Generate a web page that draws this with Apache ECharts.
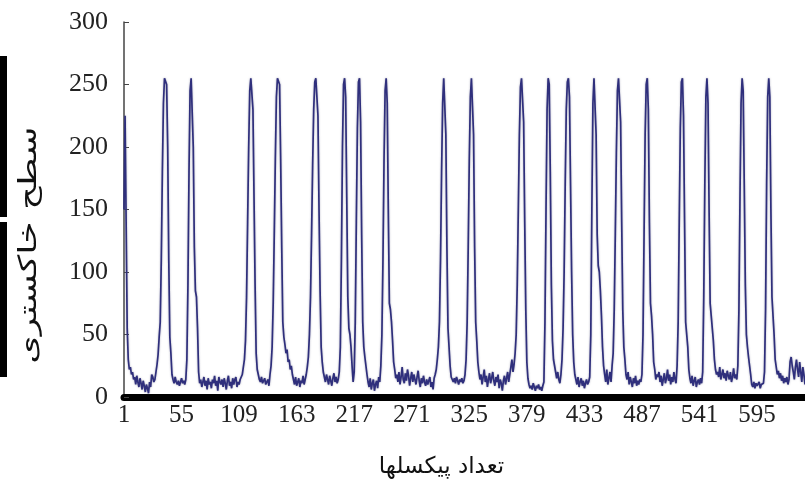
<!DOCTYPE html>
<html>
<head>
<meta charset="utf-8">
<script src="https://cdn.jsdelivr.net/npm/echarts@6/dist/echarts.min.js"></script>
<style>
  html, body { margin: 0; padding: 0; background: #fff; }
  #main { width: 805px; height: 489px; }
</style>
</head>
<body>
<div id="main"></div>
<script>
// gray level along one row of pixels (640 pixels)
const grayLevels = [
  150, 225, 140, 55, 30, 22,
  24, 18, 20, 14, 16, 10, 17, 12, 8, 15, 11, 6, 13, 9, 4, 10, 7, 3, 12, 8, 18, 16, 12, 14,
  20, 26, 34, 48, 60, 110, 180, 235, 255, 255,
  250, 200, 110, 48, 35, 18,
  14, 11, 16, 12, 10, 13, 9, 12, 15, 11, 13, 10, 14,
  30, 90, 180, 245, 255,
  255, 200, 120, 85, 80, 55, 20,
  11, 14, 8, 12, 16, 9, 13, 6, 15, 10, 12, 7, 14, 11, 17, 9, 13, 5, 16, 12,
  10, 14, 8, 15, 11, 6, 13, 17, 9, 12, 7, 15, 10, 14, 16, 8, 12, 10, 14,
  14, 18, 24, 30, 45, 80, 140, 200, 245, 255,
  255, 230, 160, 90, 35, 22,
  18, 14, 12, 16, 11, 13, 15, 10, 12, 14, 9, 18, 25,
  40, 75, 130, 190, 240, 255, 255,
  250, 190, 120, 60, 48, 42, 35, 38, 28, 30, 22, 25, 18,
  14, 10, 16, 9, 12, 15, 8, 13, 11, 17, 10, 14, 18, 24,
  32, 50, 80, 130, 185, 230, 252, 255,
  255, 225, 150, 85, 40, 28, 20,
  16, 12, 18, 14, 10, 17, 13, 9, 15, 19, 12, 16, 11, 14, 20,
  40, 110, 200, 250,
  255, 240, 160, 80, 55, 50, 40, 25, 12,
  20, 60, 140, 215, 252,
  255, 220, 130, 60, 40, 32, 25, 18,
  12, 8, 15, 6, 11, 14, 5, 10, 13, 7, 16, 12,
  25, 50, 110, 190, 245,
  255, 235, 150, 75, 70, 60, 45, 28,
  22, 15, 18, 12, 20, 10, 16, 24, 14, 11, 19, 13, 22, 17, 9, 15, 20, 12, 18, 14,
  10, 16, 21, 13, 8, 15, 11, 17, 12, 9, 14, 10, 13, 16, 8, 12, 6, 15, 18, 22, 30,
  40, 60, 110, 180, 235, 255,
  255, 210, 120, 55, 40, 25, 16,
  14, 12, 15, 11, 16, 13, 10, 14, 12, 15, 11, 13, 18,
  30, 60, 120, 190, 240, 255,
  255, 210, 120, 60, 45, 28,
  20, 14, 18, 10, 16, 22, 12, 17, 8, 14, 19, 11, 15, 20, 13, 9, 16, 12, 18, 7,
  14, 11, 5, 13, 17, 10, 15, 20, 12, 18, 24, 30, 20, 26, 35,
  50, 90, 150, 210, 248, 255,
  255, 220, 140, 70, 28, 15,
  10, 7, 9, 6, 11, 8, 5, 9, 7, 10, 6, 8, 5, 9, 12,
  60, 150, 230,
  255, 250, 180, 90, 45, 30, 25, 20, 15, 20, 14, 11, 18,
  30, 55, 100, 170, 230, 252,
  255, 240, 170, 100, 50, 28, 18,
  14, 10, 16, 8, 12, 15, 9, 13, 7, 11, 14, 10, 12, 16,
  50, 150, 235,
  255, 255, 210, 130, 105, 100, 85, 65, 40, 25,
  18, 12, 22, 10, 15, 20, 12, 25,
  35, 70, 130, 195, 245, 255,
  255, 220, 140, 70, 40, 30, 18,
  14, 20, 10, 16, 12, 8, 15, 11, 17, 9, 13, 10, 14, 12, 18,
  50, 130, 210, 250,
  255, 230, 140, 75, 65, 50, 28,
  22, 14, 18, 16, 20, 12, 17, 9, 14, 19, 11, 15, 22, 13, 18, 10, 16, 12, 20,
  14, 11, 25,
  60, 140, 215, 252,
  255, 225, 140, 60, 50, 40, 22,
  15, 11, 17, 9, 13, 16, 8, 12, 14, 10, 15, 11, 20,
  80, 170, 240,
  255, 235, 150, 75, 65, 55, 45, 30, 22, 18,
  20, 16, 24, 14, 18, 22, 15, 19, 13, 21, 17, 14, 20, 12, 16, 23, 15, 18, 14, 25,
  70, 160, 235,
  255, 245, 170, 90, 50, 40, 32, 25, 18,
  10, 8, 12, 7, 11, 9, 8, 12, 7, 10, 9, 11, 20,
  70, 170, 240,
  255, 240, 150, 80, 65, 50, 30,
  24, 18, 21, 15, 19, 13, 17, 11, 15, 12, 16, 10, 14, 28, 32, 25, 20, 14, 24, 30,
  22, 16, 28, 20, 12, 24, 18, 10
];

// pixel numbers 1..640, labelled every 54th
const pixelNumbers = grayLevels.map((v, i) => String(i + 1));
const labelStep = 54;

const yTicks = { min: 0, max: 300, interval: 50 };
const xTitle = 'تعداد پیکسلها';
const yTitle = 'سطح خاکستری';

const chart = echarts.init(document.getElementById('main'), null, { renderer: 'canvas' });

const option = {
  backgroundColor: '#fff',
  animation: false,
  grid: { left: 124, right: 0, top: 22, bottom: 92 },
  xAxis: {
    type: 'category',
    data: pixelNumbers,
    boundaryGap: false,
    name: xTitle,
    nameLocation: 'middle',
    nameGap: 59,
    nameTextStyle: {
      fontFamily: 'DejaVu Sans',
      fontSize: 23,
      color: '#111',
      padding: [0, 46, 0, 0]
    },
    axisLine: { lineStyle: { color: '#000', width: 7 } },
    axisTick: { show: false },
    axisLabel: {
      interval: labelStep - 1,
      margin: 6,
      fontFamily: 'Liberation Serif',
      fontSize: 25,
      color: '#222'
    },
    splitLine: { show: false }
  },
  yAxis: {
    type: 'value',
    min: yTicks.min,
    max: yTicks.max,
    interval: yTicks.interval,
    axisLine: { show: true, lineStyle: { color: '#444', width: 1.5 } },
    axisTick: { show: true, inside: true, length: 5, lineStyle: { color: '#444' } },
    axisLabel: {
      margin: 16,
      fontFamily: 'Liberation Serif',
      fontSize: 26,
      color: '#222'
    },
    splitLine: { show: false }
  },
  graphic: [
    { type: 'rect', left: 0, top: 56, shape: { width: 7, height: 161 }, style: { fill: '#000' } },
    { type: 'rect', left: 0, top: 222, shape: { width: 7, height: 155 }, style: { fill: '#000' } },
    {
      type: 'text',
      x: 29,
      y: 245,
      rotation: Math.PI / 2,
      scaleX: 1.45,
      style: {
        text: yTitle,
        font: '25px "DejaVu Sans"',
        fill: '#111',
        align: 'center',
        verticalAlign: 'middle'
      }
    }
  ],
  series: [
    {
      type: 'line',
      data: grayLevels,
      showSymbol: false,
      lineStyle: {
        color: '#2f2f7c',
        width: 1.7,
        shadowColor: 'rgba(110,110,140,0.6)',
        shadowBlur: 2
      }
    }
  ]
};

chart.setOption(option);
</script>
</body>
</html>
